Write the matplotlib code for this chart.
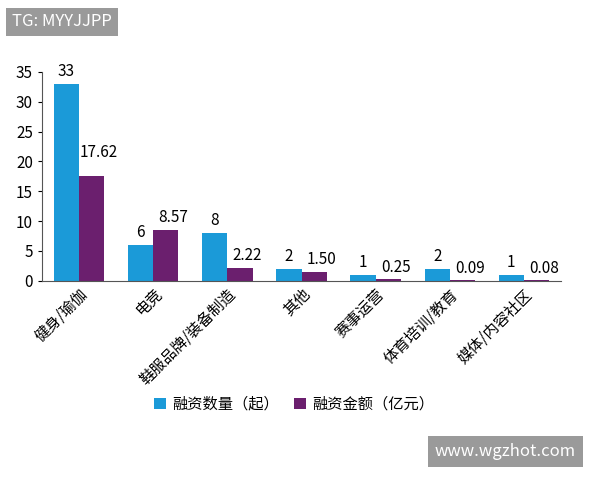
import matplotlib
matplotlib.use("Agg")
import matplotlib.pyplot as plt
import numpy as np

plt.rcParams['font.family'] = ['Noto Sans CJK SC', 'DejaVu Sans']

categories = ["健身/瑜伽", "电竞", "鞋服品牌/装备制造", "其他", "赛事运营", "体育培训/教育", "媒体/内容社区"]
count = [33, 6, 8, 2, 1, 2, 1]
amount = [17.62, 8.57, 2.22, 1.50, 0.25, 0.09, 0.08]
count_labels = ["33", "6", "8", "2", "1", "2", "1"]
amount_labels = ["17.62", "8.57", "2.22", "1.50", "0.25", "0.09", "0.08"]

fig = plt.figure(figsize=(6, 4.8), dpi=100)
ax = fig.add_axes([0.07, 0.415, 0.865, 0.435])
x = np.arange(len(categories))
w = 0.34
blue = "#1b9ad8"
purple = "#6b1f6e"
ax.bar(x - w/2, count, w, color=blue, label="融资数量（起）")
ax.bar(x + w/2, amount, w, color=purple, label="融资金额（亿元）")
for i in range(len(x)):
    ax.text(x[i] - w/2, count[i] + 0.6, count_labels[i], ha="center", va="bottom", fontsize=11)
    ax.text(x[i] + w/2 + 0.1, amount[i] + 0.6 if i != 0 else 20.0, amount_labels[i], ha="center", va="bottom", fontsize=11)
ax.set_ylim(0, 35)
ax.set_xlim(-0.5, len(x) - 0.5)
ax.set_yticks(range(0, 36, 5))
ax.tick_params(axis='y', labelsize=11, length=3)
ax.set_xticks(x)
ax.set_xticklabels(categories, rotation=45, ha="right", rotation_mode="anchor", fontsize=11)
ax.tick_params(axis='x', length=0)
ax.spines['top'].set_visible(False)
ax.spines['right'].set_visible(False)
ax.spines['left'].set_color('#555555')
ax.spines['bottom'].set_color('#555555')
fig.legend(loc="center", bbox_to_anchor=(0.49, 0.158), ncol=2, frameon=False, fontsize=11,
           handlelength=0.8, columnspacing=1.0, handletextpad=0.4)
fig.text(0.02, 0.945, "TG: MYYJJPP", fontsize=12, color="white",
         bbox=dict(boxstyle="square,pad=0.35", fc="#9a9a9a", ec="none"))
fig.text(0.725, 0.05, "www.wgzhot.com", fontsize=12, color="white",
         bbox=dict(boxstyle="square,pad=0.4", fc="#9a9a9a", ec="none"))
fig.savefig("out.png", dpi=100)
